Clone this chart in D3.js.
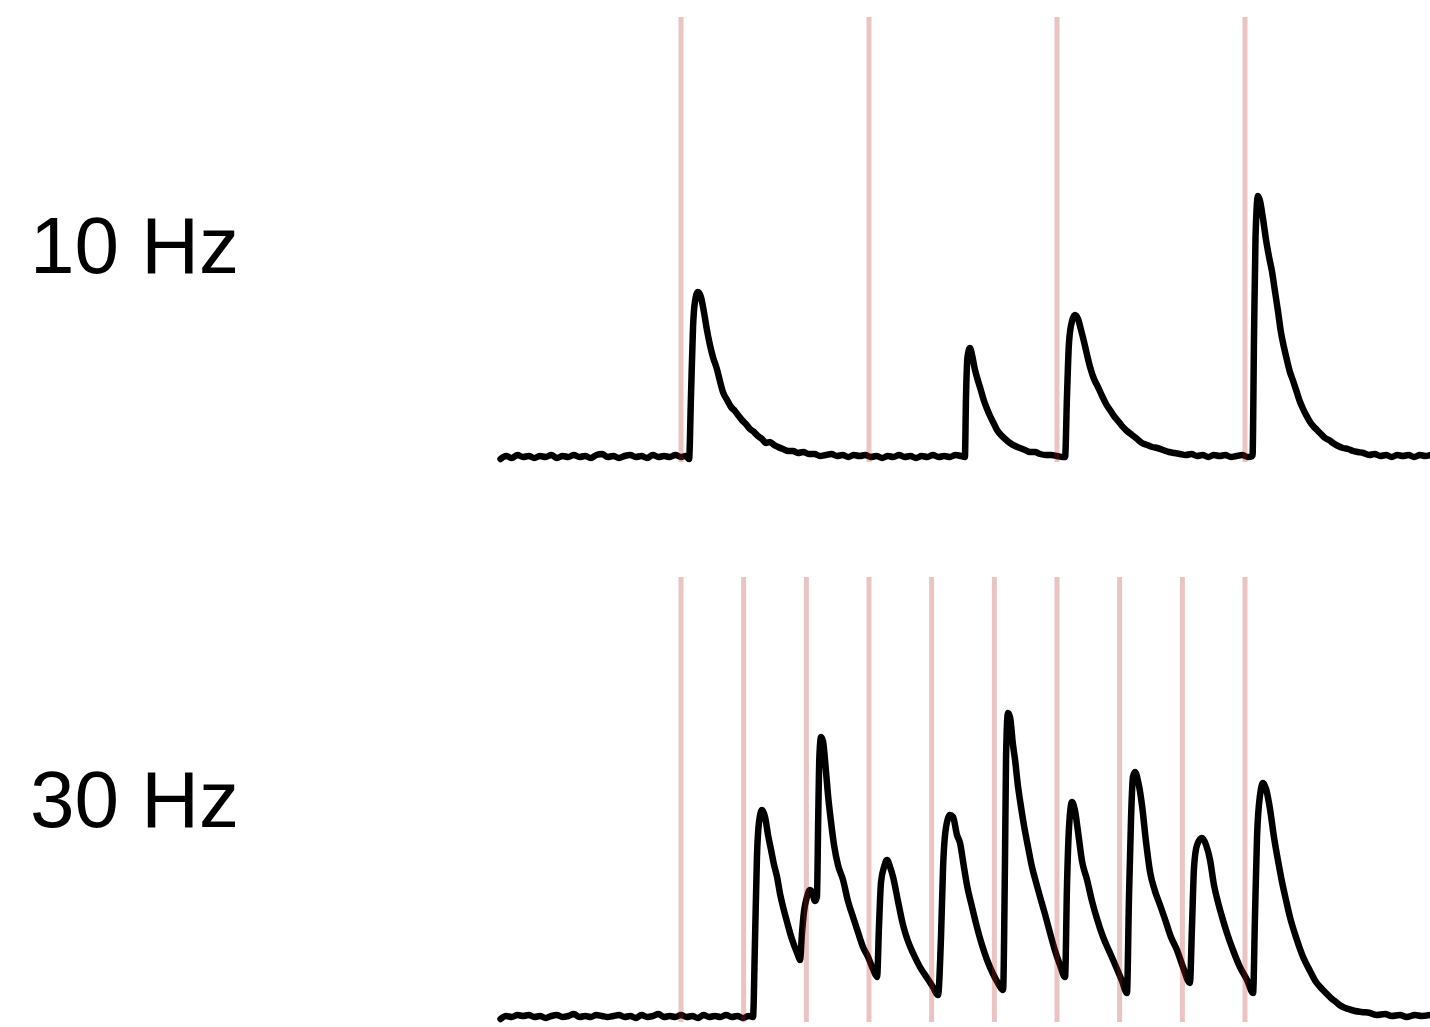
<!DOCTYPE html>
<html>
<head>
<meta charset="utf-8">
<script src="https://cdn.jsdelivr.net/npm/d3@7"></script>
<style>
  html, body { margin: 0; padding: 0; background: #fff; }
  svg { display: block; }
</style>
</head>
<body>
<svg id="chart" width="1430" height="1027"></svg>
<script>
// Stimulus onset times (ms) for each train
const stim10Hz = [0, 100, 200, 300];
const stim30Hz = [0, 33.3, 66.7, 100, 133.3, 166.7, 200, 233.3, 266.7, 300];

// Panel labels
const panelLabels = ["10 Hz", "30 Hz"];

// Recorded response to the 10 Hz train: [time (ms), amplitude]
const trace10Hz = [
  [-96,-0.02],[-93,0.01],[-90,-0.01],[-87,0.02],[-84,0.0],[-81,0.01],[-78,-0.01],[-75,0.01],[-72,0.0],[-69,0.02],
  [-66,-0.01],[-63,0.01],[-60,0.0],[-57,0.02],[-54,0.0],[-51,0.01],[-48,-0.01],[-45,0.02],[-42,0.03],[-39,0.0],
  [-36,0.01],[-33,-0.01],[-30,0.01],[-27,0.02],[-24,0.0],[-21,0.01],[-18,-0.01],[-15,0.02],[-12,0.0],[-9,0.01],
  [-6,0.0],[-3,0.02],[0,0.0],[2.5,0.01],[4.3,-0.02],
  [5.3,0.6],[6.4,1.3],[7.4,1.55],[9.0,1.65],[10.6,1.6],[12.2,1.45],[13.8,1.27],[15.4,1.12],[17.0,1.0],[19.1,0.88],
  [20.7,0.76],[22.3,0.65],[24.5,0.57],[26.6,0.5],[28.7,0.46],[30.3,0.42],[32.4,0.37],[34.5,0.33],[36.7,0.28],[38.8,0.25],
  [40.9,0.21],[43.1,0.18],[45.2,0.14],[47.3,0.15],[49.5,0.12],[51.6,0.1],[54.3,0.08],[57,0.06],[59.6,0.06],[62.2,0.04],
  [65,0.05],[68,0.03],[71,0.03],[74,0.01],[77,0.02],[80,0.03],[83,0.01],[86,0.02],[89,0.0],[92,0.02],[95,0.01],[98,0.02],
  [101,0.0],[104,0.01],[107,-0.01],[110,0.01],[113,0.0],[116,0.02],[119,0.0],[122,0.01],[125,-0.01],[128,0.01],[131,0.0],
  [134,0.02],[137,0.0],[140,0.01],[143,0.0],[146,0.02],[149,0.01],[151,0.0],
  [151.6,0.6],[152.4,1.0],[153.7,1.09],[154.8,1.02],[156.4,0.87],[157.7,0.78],[159,0.7],[161.2,0.56],[162.8,0.48],
  [164.4,0.41],[166,0.35],[168.1,0.27],[170.2,0.22],[172.4,0.18],[175,0.14],[177.7,0.11],[180.3,0.09],[183,0.07],
  [185.6,0.05],[188.3,0.05],[191,0.03],[194,0.02],[197,0.02],[200,0.01],[203,0.0],[204.3,0.0],
  [205.3,0.6],[206.4,1.15],[208,1.36],[209.6,1.42],[211.2,1.38],[212.8,1.27],[214.4,1.15],[216,1.02],[217.6,0.9],
  [219.7,0.78],[221.8,0.7],[224,0.61],[226.1,0.53],[228.2,0.47],[230.3,0.41],[232.5,0.36],[234.6,0.31],[237.2,0.26],
  [239.9,0.22],[242.6,0.18],[245.2,0.14],[248,0.12],[250.6,0.1],[253.3,0.09],[256.4,0.07],[259.5,0.05],[262.6,0.04],
  [265.4,0.03],[268.5,0.02],[271.5,0.03],[274.5,0.01],[277.5,0.02],[280.5,0.0],[283.5,0.02],[286.5,0.01],[289.5,0.02],
  [292.5,0.0],[295.5,0.01],[298.5,0.02],[301.5,0.0],[304,0.01],
  [304.8,1.2],[305.6,2.2],[306.9,2.61],[308,2.56],[309.6,2.38],[311.2,2.17],[312.8,2.0],[314.4,1.85],[316,1.65],
  [317.6,1.45],[319.1,1.25],[320.7,1.1],[322.3,0.97],[323.9,0.85],[325.6,0.76],[327.7,0.64],[329.3,0.55],[330.9,0.48],
  [332.5,0.42],[334.6,0.35],[336.7,0.3],[338.3,0.27],[340.4,0.23],[342.6,0.19],[344.7,0.17],[346.8,0.14],[349.5,0.11],
  [352.1,0.09],[354.8,0.08],[357.5,0.06],[360.1,0.05],[363,0.04],[366,0.02],[369,0.03],[372,0.01],[375,0.02],[378,0.0],
  [381,0.02],[384,0.01],[387,0.02],[390,0.0],[393,0.02],[396,0.01],[398.5,0.02]
];

// Recorded response to the 30 Hz train: [time (ms), amplitude]
const trace30Hz = [
  [-96,-0.02],[-93,0.01],[-90,0.0],[-87,0.02],[-84,0.01],[-81,0.02],[-78,0.0],[-75,0.01],[-72,-0.01],[-69,0.01],
  [-66,0.02],[-63,0.0],[-60,0.01],[-57,0.03],[-54,0.0],[-51,0.01],[-48,0.0],[-45,0.02],[-42,0.01],[-39,0.0],
  [-36,0.01],[-33,0.02],[-30,0.0],[-27,0.01],[-24,-0.01],[-21,0.02],[-18,0.0],[-15,0.01],[-12,0.03],[-9,0.0],
  [-6,0.01],[-3,0.0],[0,0.02],[3,0.0],[6,0.01],[9,-0.01],[12,0.02],[15,0.0],[18,0.01],[21,0.0],[24,0.02],[27,0.0],
  [30,0.01],[33,-0.01],[36,0.01],[38.3,0.0],
  [39.4,0.8],[40.4,1.6],[41.5,1.95],[43.1,2.07],[44.7,2.0],[46.3,1.82],[47.8,1.68],[49.5,1.52],[51.1,1.4],[52.7,1.23],
  [54.3,1.1],[56.4,0.95],[58,0.84],[60.1,0.72],[62.2,0.62],[63.3,0.57],
  [64.4,0.85],[65.4,1.05],[67,1.2],[68.6,1.27],[69.7,1.25],[71.3,1.16],[72.3,1.2],
  [73,2.0],[73.6,2.6],[74.5,2.8],[75.5,2.76],[77.1,2.46],[78.2,2.22],[79.8,1.95],[81.4,1.72],[83.5,1.52],[86.2,1.37],
  [88.8,1.16],[91.5,1.0],[94.1,0.85],[96.8,0.7],[99.5,0.6],[102.1,0.48],[104.3,0.4],
  [105.3,0.9],[106.4,1.35],[108,1.5],[109.6,1.57],[111.2,1.5],[112.8,1.4],[115.4,1.16],[118.1,0.92],[120.7,0.76],
  [123.4,0.64],[127.1,0.5],[130.9,0.39],[134,0.3],[136.7,0.22],
  [138.3,0.8],[139.4,1.5],[141,1.9],[143.1,2.02],[144.7,2.0],[146.8,1.82],[148.4,1.74],[150.5,1.5],[152.1,1.32],
  [154.8,1.1],[157.4,0.9],[160.1,0.72],[162.8,0.57],[166,0.43],[168.6,0.34],[171.3,0.27],
  [172.3,1.5],[172.9,2.6],[173.9,3.04],[175,3.0],[176.6,2.72],[177.7,2.57],[179.3,2.3],[180.3,2.17],[182.4,1.92],
  [184.6,1.7],[186.7,1.5],[188.8,1.35],[191,1.2],[193.6,1.03],[196.3,0.84],[199,0.66],[201.6,0.52],[204.3,0.4],
  [205.3,1.3],[206.4,1.9],[208,2.15],[209.6,2.06],[211.2,1.85],[213.3,1.56],[216,1.37],[218.6,1.16],[221.3,0.98],
  [224.5,0.8],[228.2,0.64],[231.9,0.48],[234.6,0.36],[237.2,0.24],
  [238.3,1.2],[239.4,2.0],[240.4,2.4],[241.5,2.45],[243.1,2.36],[245.2,2.12],[247.3,1.76],[249.5,1.45],[252.1,1.26],
  [254.8,1.12],[257.4,0.98],[260.6,0.8],[263.8,0.67],[267,0.5],[270.7,0.34],
  [271.8,0.9],[272.9,1.5],[274.5,1.72],[277.1,1.79],[279.3,1.72],[281.4,1.57],[283.5,1.32],[285.6,1.15],[287.8,1.0],
  [290.4,0.84],[293.6,0.67],[297.3,0.5],[301.1,0.37],[304.3,0.24],
  [305.3,1.0],[306.4,1.8],[308,2.22],[309.6,2.34],[311.2,2.28],[313.3,2.08],[315.4,1.8],[317.6,1.56],[319.7,1.35],
  [321.8,1.17],[323.9,1.0],[327.1,0.8],[330.9,0.6],[334.6,0.46],[337.8,0.35],[340,0.3],[342,0.26],[344.1,0.22],
  [346.3,0.18],[348.4,0.15],[350.3,0.12],[352.1,0.1],[355,0.08],[358.5,0.06],[362,0.05],[366.5,0.04],[370,0.02],
  [374.5,0.03],[378,0.01],[382.4,0.02],[386,0.0],[390.4,0.02],[394,0.01],[398.4,0.02]
];

const panels = [
  { label: panelLabels[0], stims: stim10Hz, trace: trace10Hz, top: 17,  bottom: 462, labelY: 273 },
  { label: panelLabels[1], stims: stim30Hz, trace: trace30Hz, top: 577, bottom: 1022, labelY: 827 }
];

const svg = d3.select("#chart");

// Shared time axis (ms)
const x = d3.scaleLinear().domain([-100, 400]).range([493, 1433]);

panels.forEach(p => {
  const y = d3.scaleLinear().domain([-0.05, 4.4]).range([p.bottom, p.top]);
  const g = svg.append("g");

  const line = d3.line()
    .x(d => x(d[0]))
    .y(d => y(d[1]))
    .curve(d3.curveMonotoneX);

  g.append("path")
    .datum(p.trace)
    .attr("d", line)
    .attr("fill", "none")
    .attr("stroke", "#000")
    .attr("stroke-width", 6.5)
    .attr("stroke-linejoin", "round")
    .attr("stroke-linecap", "round");

  // Stimulus markers, translucent over the trace
  g.selectAll("line.stim")
    .data(p.stims)
    .join("line")
    .attr("class", "stim")
    .attr("x1", d => x(d))
    .attr("x2", d => x(d))
    .attr("y1", y(4.4))
    .attr("y2", y(-0.05))
    .attr("stroke", "rgba(178,34,34,0.27)")
    .attr("stroke-width", 5);

  svg.append("text")
    .attr("x", 30)
    .attr("y", p.labelY)
    .attr("font-family", "'Liberation Sans', Arial, Helvetica, sans-serif")
    .attr("font-size", 80)
    .attr("fill", "#000")
    .text(p.label);
});
</script>
</body>
</html>
